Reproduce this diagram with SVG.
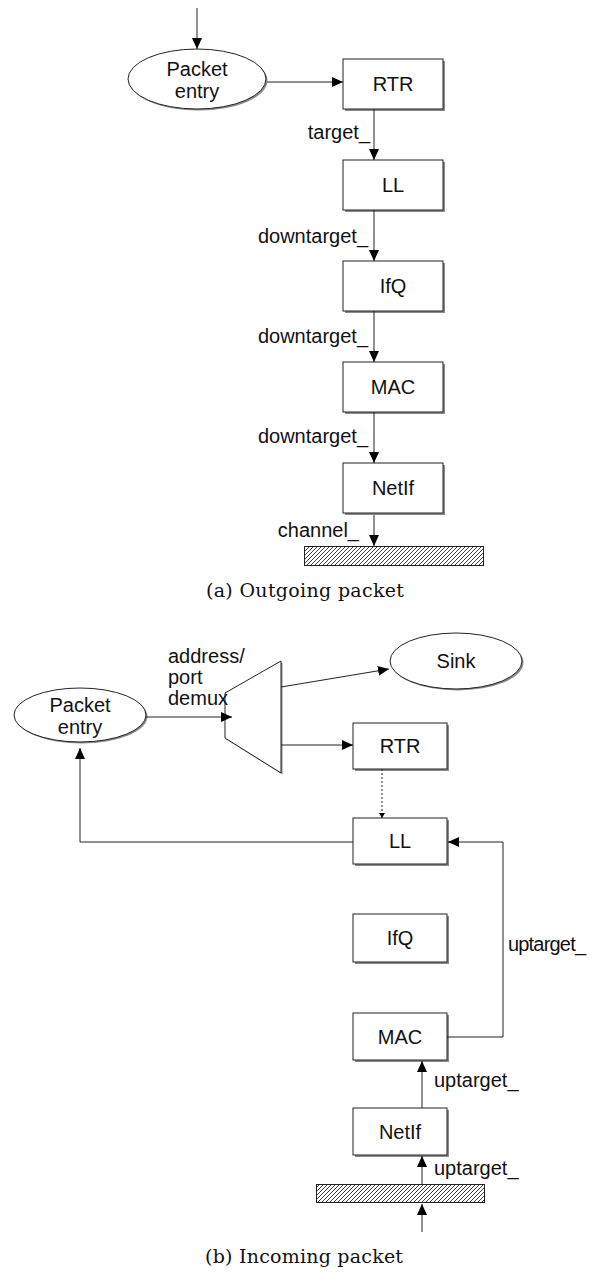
<svg xmlns="http://www.w3.org/2000/svg" width="589" height="1279" viewBox="0 0 589 1279">
<style>
.box{fill:#fff;stroke:#222;stroke-width:1}
.sh{fill:#8a8a8a}
.t{font-family:"Liberation Sans",Arial,sans-serif;font-size:20px;fill:#111}
.c{text-anchor:middle}
.e{text-anchor:end}
.ln{fill:none;stroke:#222;stroke-width:1}
.cap{font-family:"DejaVu Serif","Liberation Serif",serif;font-size:19px;fill:#111;text-anchor:middle}
.bar{fill:url(#hatch);stroke:#222;stroke-width:1}
</style>
<defs>
<marker id="ah" markerUnits="userSpaceOnUse" markerWidth="12" markerHeight="10" refX="11" refY="5" orient="auto">
<path d="M0,0 L11,5 L0,10 Z" fill="#000"/>
</marker>
<marker id="ahs" markerUnits="userSpaceOnUse" markerWidth="6" markerHeight="6" refX="5" refY="3" orient="auto">
<path d="M0,0 L5,3 L0,6 Z" fill="#000"/>
</marker>
<pattern id="hatch" patternUnits="userSpaceOnUse" width="4" height="4">
<rect width="4" height="4" fill="#fff"/>
<path d="M-1,1 L1,-1 M0,4 L4,0 M3,5 L5,3" stroke="#222" stroke-width="0.9"/>
</pattern>
</defs>

<!-- (a) Outgoing packet -->
<g id="a-entry">
<ellipse cx="198.5" cy="80.5" rx="69" ry="30" class="sh"/>
<ellipse cx="197" cy="79" rx="69" ry="30" class="box"/>
<text x="197" y="76" class="t c">Packet</text>
<text x="197" y="98" class="t c">entry</text>
</g>
<g id="a-rtr">
<rect x="345" y="61" width="100" height="50" class="sh"/>
<rect x="343" y="59" width="100" height="50" class="box"/>
<text x="393" y="91" class="t c">RTR</text>
</g>
<g id="a-ll">
<rect x="345" y="162" width="100" height="50" class="sh"/>
<rect x="343" y="160" width="100" height="50" class="box"/>
<text x="393" y="192" class="t c">LL</text>
</g>
<g id="a-ifq">
<rect x="345" y="263" width="100" height="50" class="sh"/>
<rect x="343" y="261" width="100" height="50" class="box"/>
<text x="393" y="293" class="t c">IfQ</text>
</g>
<g id="a-mac">
<rect x="345" y="364" width="100" height="50" class="sh"/>
<rect x="343" y="362" width="100" height="50" class="box"/>
<text x="393" y="394" class="t c">MAC</text>
</g>
<g id="a-netif">
<rect x="345" y="465" width="100" height="50" class="sh"/>
<rect x="343" y="463" width="100" height="50" class="box"/>
<text x="393" y="495" class="t c">NetIf</text>
</g>
<g id="a-channel">
<rect x="304.5" y="546.5" width="179" height="19" class="bar"/>
</g>

<g id="a-connectors">
<line x1="197" y1="8" x2="197" y2="49" class="ln" marker-end="url(#ah)"/>
<line x1="267" y1="82" x2="343" y2="82" class="ln" marker-end="url(#ah)"/>
<line x1="374" y1="109" x2="374" y2="160" class="ln" marker-end="url(#ah)"/>
<line x1="374" y1="210" x2="374" y2="261" class="ln" marker-end="url(#ah)"/>
<line x1="374" y1="311" x2="374" y2="362" class="ln" marker-end="url(#ah)"/>
<line x1="374" y1="412" x2="374" y2="463" class="ln" marker-end="url(#ah)"/>
<line x1="374" y1="515" x2="374" y2="546" class="ln" marker-end="url(#ah)"/>
<text x="370" y="139" class="t e">target_</text>
<text x="368" y="243" class="t e">downtarget_</text>
<text x="368" y="343" class="t e">downtarget_</text>
<text x="368" y="443" class="t e">downtarget_</text>
<text x="359" y="537" class="t e">channel_</text>
</g>
<text x="305" y="597" class="cap" textLength="198">(a) Outgoing packet</text>

<!-- (b) Incoming packet -->
<g id="b-entry">
<ellipse cx="81.5" cy="716.5" rx="66" ry="27" class="sh"/>
<ellipse cx="80" cy="715" rx="66" ry="27" class="box"/>
<text x="80" y="712" class="t c">Packet</text>
<text x="80" y="734" class="t c">entry</text>
</g>
<g id="b-demux">
<polygon points="226.5,694.5 282.5,662.5 282.5,774.5 226.5,739.5" class="sh"/>
<polygon points="225,693 281,661 281,773 225,738" class="box"/>
<text x="168" y="663" class="t">address/</text>
<text x="168" y="684" class="t">port</text>
<text x="168" y="705" class="t">demux</text>
</g>
<g id="b-sink">
<ellipse cx="457.5" cy="662.5" rx="66" ry="28" class="sh"/>
<ellipse cx="456" cy="661" rx="66" ry="28" class="box"/>
<text x="456" y="668" class="t c">Sink</text>
</g>
<g id="b-rtr">
<rect x="355" y="725" width="94" height="46" class="sh"/>
<rect x="353" y="723" width="94" height="46" class="box"/>
<text x="400" y="753" class="t c">RTR</text>
</g>
<g id="b-ll">
<rect x="355" y="820" width="94" height="46" class="sh"/>
<rect x="353" y="818" width="94" height="46" class="box"/>
<text x="400" y="848" class="t c">LL</text>
</g>
<g id="b-ifq">
<rect x="355" y="916" width="94" height="48" class="sh"/>
<rect x="353" y="914" width="94" height="48" class="box"/>
<text x="400" y="945" class="t c">IfQ</text>
</g>
<g id="b-mac">
<rect x="355" y="1015" width="94" height="47" class="sh"/>
<rect x="353" y="1013" width="94" height="47" class="box"/>
<text x="400" y="1044" class="t c">MAC</text>
</g>
<g id="b-netif">
<rect x="355" y="1110" width="94" height="47" class="sh"/>
<rect x="353" y="1108" width="94" height="47" class="box"/>
<text x="400" y="1139" class="t c">NetIf</text>
</g>
<g id="b-channel">
<rect x="316.5" y="1184.5" width="168" height="18" class="bar"/>
</g>

<g id="b-connectors">
<line x1="146" y1="717" x2="232" y2="717" class="ln" marker-end="url(#ah)"/>
<line x1="281" y1="687" x2="389" y2="669" class="ln" marker-end="url(#ah)"/>
<line x1="281" y1="745" x2="353" y2="745" class="ln" marker-end="url(#ah)"/>
<line x1="382" y1="769" x2="382" y2="818" class="ln" stroke-dasharray="2,2" marker-end="url(#ahs)"/>
<polyline points="353,842 80,842 80,748" class="ln" marker-end="url(#ah)"/>
<polyline points="447,1037 503,1037 503,842 448,842" class="ln" marker-end="url(#ah)"/>
<line x1="422" y1="1108" x2="422" y2="1061" class="ln" marker-end="url(#ah)"/>
<line x1="422" y1="1184" x2="422" y2="1156" class="ln" marker-end="url(#ah)"/>
<line x1="422" y1="1232" x2="422" y2="1204" class="ln" marker-end="url(#ah)"/>
<text x="508" y="951" class="t" textLength="78">uptarget_</text>
<text x="434" y="1087" class="t">uptarget_</text>
<text x="434" y="1175" class="t">uptarget_</text>
</g>
<text x="304" y="1263" class="cap" textLength="198">(b) Incoming packet</text>
</svg>
